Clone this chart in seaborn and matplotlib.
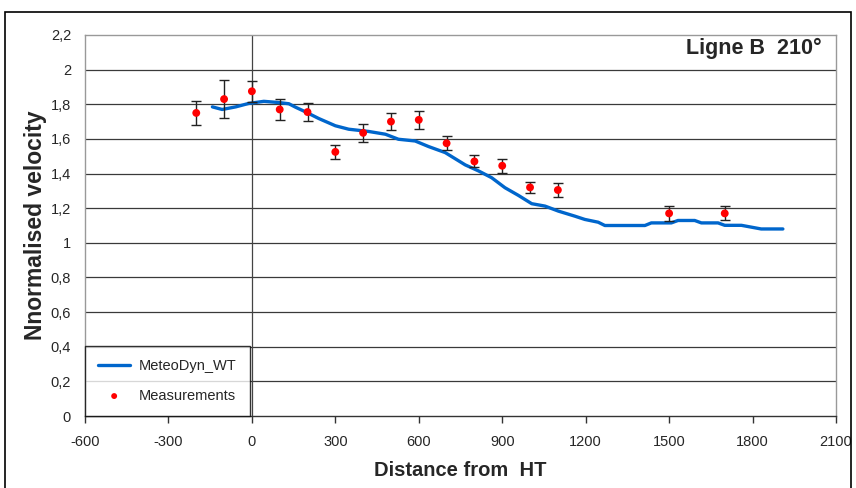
import pandas as pd
import seaborn as sns
import matplotlib
matplotlib.use('Agg')
import matplotlib.pyplot as plt
from matplotlib.patches import Rectangle

# MeteoDyn_WT model profile
model_x = [-142, -107, -58, -11, 43, 97, 133, 157, 193, 240, 300, 348, 420, 480,
           527, 587, 635, 695, 767, 815, 862, 910, 958, 1006, 1054, 1102, 1161,
           1197, 1245, 1269, 1413, 1436, 1508, 1532, 1592, 1616, 1676, 1700,
           1760, 1831, 1909]
model_y = [1.785, 1.77, 1.785, 1.805, 1.817, 1.81, 1.803, 1.783, 1.756, 1.718,
           1.676, 1.656, 1.643, 1.627, 1.598, 1.588, 1.556, 1.521, 1.45, 1.415,
           1.376, 1.318, 1.274, 1.226, 1.212, 1.183, 1.154, 1.135, 1.119, 1.10,
           1.10, 1.115, 1.115, 1.129, 1.129, 1.115, 1.115, 1.101, 1.101, 1.08, 1.08]

# Measurements with error bars
meas_x = [-200, -100, 0, 100, 200, 300, 400, 500, 600, 700, 800, 900, 1000, 1100, 1500, 1700]
meas_y = [1.75, 1.83, 1.875, 1.77, 1.755, 1.525, 1.635, 1.70, 1.71, 1.575, 1.47,
          1.445, 1.32, 1.305, 1.17, 1.17]
meas_err = [0.07, 0.11, 0.06, 0.06, 0.05, 0.04, 0.05, 0.05, 0.05, 0.04, 0.035,
            0.04, 0.03, 0.04, 0.045, 0.04]

x_ticks = [-600, -300, 0, 300, 600, 900, 1200, 1500, 1800, 2100]
y_ticks = [0, 0.2, 0.4, 0.6, 0.8, 1.0, 1.2, 1.4, 1.6, 1.8, 2.0, 2.2]
y_tick_labels = ['0', '0,2', '0,4', '0,6', '0,8', '1', '1,2', '1,4', '1,6', '1,8', '2', '2,2']

sns.set_style('white')
plt.rcParams['font.family'] = ['Liberation Sans', 'DejaVu Sans']

model = pd.DataFrame({'x': model_x, 'y': model_y})
meas = pd.DataFrame({'x': meas_x, 'y': meas_y, 'err': meas_err})

fig = plt.figure(figsize=(8.56, 4.88), dpi=100)
ax = fig.add_axes([85 / 856, 72 / 488, 751 / 856, 381 / 488])

# horizontal grid and the vertical line at x = 0
for yv in y_ticks[1:-1]:
    ax.axhline(yv, color='#3a3a3a', lw=0.9, zorder=1)
ax.axvline(0, color='#444444', lw=0.9, zorder=1)

sns.lineplot(data=model, x='x', y='y', ax=ax, color='#0066cc', lw=2.4,
             label='MeteoDyn_WT', zorder=3)
ax.errorbar(meas['x'], meas['y'], yerr=meas['err'], fmt='none', ecolor='#222222',
            elinewidth=1, capsize=3.5, capthick=1, zorder=4)
sns.scatterplot(data=meas, x='x', y='y', ax=ax, color='#ff0000', s=32,
                edgecolor='none', label='Measurements', zorder=5)

ax.set_xlim(-600, 2100)
ax.set_ylim(0, 2.2)
ax.set_xticks(x_ticks)
ax.set_xticklabels([str(v) for v in x_ticks])
ax.set_yticks(y_ticks)
ax.set_yticklabels(y_tick_labels)
ax.tick_params(axis='x', direction='out', length=5, width=1, color='#333333',
               pad=9, labelsize=10.5, bottom=True)
ax.tick_params(axis='y', length=0, pad=10, labelsize=10.5)

for side in ['top', 'right', 'left']:
    ax.spines[side].set_color('#999999')
    ax.spines[side].set_linewidth(1)
ax.spines['bottom'].set_color('#333333')
ax.spines['bottom'].set_linewidth(1)

ax.set_xlabel('Distance from  HT', fontsize=14.5, fontweight='bold', labelpad=8)
ax.set_ylabel('Nnormalised velocity', fontsize=16.5, fontweight='bold', labelpad=3)

ax.text(0.981, 0.966, 'Ligne B  210\u00b0', transform=ax.transAxes, ha='right',
        va='center', fontsize=15.5, fontweight='bold')

leg = ax.legend(loc='lower left', bbox_to_anchor=(0, 0), borderaxespad=0,
                fontsize=10.5, frameon=True, fancybox=False, handlelength=2.2,
                borderpad=0.9, labelspacing=1.1, handletextpad=0.6)
leg.get_frame().set_edgecolor('black')
leg.get_frame().set_linewidth(1)
leg.legend_handles[1].set_sizes([18])

# outer chart border
fig.patches.append(Rectangle((5 / 856, -0.01), 846 / 856, (488 - 12) / 488 + 0.01,
                             transform=fig.transFigure, fill=False,
                             edgecolor='black', lw=1.2))

fig.savefig('out.png', dpi=100)
plt.close(fig)
